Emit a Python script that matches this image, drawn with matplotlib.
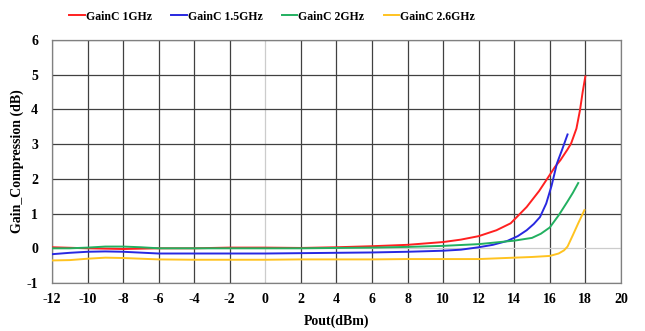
import matplotlib.pyplot as plt

plt.rcParams['font.family'] = ['Liberation Serif', 'DejaVu Serif']
plt.rcParams['font.weight'] = 'bold'
plt.rcParams['axes.unicode_minus'] = False

# data
x_1g = [-12, -10, -8, -6, -4, -2, 0, 2, 4, 6, 8, 10, 11, 12, 13, 13.8, 14.7, 15.4, 15.8, 16.3, 16.6, 17.0, 17.2, 17.5, 17.7, 17.85, 18]
y_1g = [0.03, 0.0, -0.02, 0.0, 0.0, 0.02, 0.02, 0.01, 0.03, 0.06, 0.1, 0.18, 0.25, 0.35, 0.52, 0.72, 1.19, 1.65, 1.96, 2.35, 2.54, 2.85, 3.02, 3.45, 3.98, 4.5, 4.95]

x_15g = [-12, -11, -10, -9, -8, -6, -4, -2, 0, 2, 4, 6, 8, 10, 11, 12, 12.8, 13.6, 14.2, 14.7, 15.1, 15.45, 15.8, 16.1, 16.4, 16.7, 17.0]
y_15g = [-0.17, -0.13, -0.1, -0.09, -0.1, -0.15, -0.15, -0.15, -0.15, -0.14, -0.13, -0.12, -0.1, -0.07, -0.04, 0.03, 0.1, 0.21, 0.35, 0.52, 0.7, 0.9, 1.29, 1.8, 2.44, 2.85, 3.28]

x_2g = [-12, -11, -10, -9, -8, -7, -6, -4, -2, 0, 2, 4, 6, 8, 10, 12, 13, 14, 15, 15.5, 16, 16.5, 17, 17.3, 17.6]
y_2g = [0.0, 0.0, 0.02, 0.05, 0.05, 0.03, 0.0, 0.0, 0.0, 0.0, 0.0, 0.01, 0.02, 0.04, 0.07, 0.12, 0.17, 0.22, 0.3, 0.42, 0.6, 0.95, 1.35, 1.6, 1.88]

x_26g = [-12, -11, -10, -9, -8, -7, -6, -4, -2, 0, 2, 4, 6, 8, 10, 12, 13, 14, 15, 16.0, 16.5, 16.8, 17.0, 17.3, 17.6, 17.95]
y_26g = [-0.35, -0.34, -0.3, -0.27, -0.28, -0.3, -0.32, -0.33, -0.33, -0.33, -0.32, -0.32, -0.32, -0.31, -0.31, -0.31, -0.29, -0.27, -0.25, -0.22, -0.15, -0.06, 0.05, 0.38, 0.72, 1.1]

xticks = list(range(-12, 21, 2))
yticks = list(range(-1, 7))

fig = plt.figure(figsize=(6.45, 3.31), dpi=100)
ax = fig.add_axes([0.0806, 0.145, 0.882, 0.734])

for v in xticks:
    ax.axvline(v, color='#cccccc' if v == 0 else '#404040', lw=0.9, zorder=1)
for v in yticks:
    ax.axhline(v, color='#cccccc' if v == 0 else '#404040', lw=0.9, zorder=1)

ax.plot(x_1g, y_1g, color='#ff2020', lw=1.4, label='GainC 1GHz', zorder=3)
ax.plot(x_15g, y_15g, color='#2828e0', lw=1.4, label='GainC 1.5GHz', zorder=3)
ax.plot(x_2g, y_2g, color='#22b060', lw=1.4, label='GainC 2GHz', zorder=3)
ax.plot(x_26g, y_26g, color='#ffc320', lw=1.4, label='GainC 2.6GHz', zorder=3)

ax.set_xlim(-12, 20)
ax.set_ylim(-1, 6)
ax.set_xticks(xticks)
ax.set_yticks(yticks)
ax.tick_params(axis='x', length=0, labelsize=10, pad=7)
ax.tick_params(axis='y', length=0, labelsize=10, pad=10)
for s in ax.spines.values():
    s.set_color('#808080')
    s.set_linewidth(0.9)

ax.set_xlabel('Pout(dBm)', fontsize=10, fontweight='bold', labelpad=6)
ax.set_ylabel('Gain_Compression (dB)', fontsize=10, fontweight='bold', labelpad=2)

fig.legend(loc='center', bbox_to_anchor=(0.422, 0.95), ncol=4, frameon=False,
           fontsize=8.5, handlelength=1.3, handletextpad=0.1, columnspacing=1.65)

fig.savefig('out.png', dpi=100)
